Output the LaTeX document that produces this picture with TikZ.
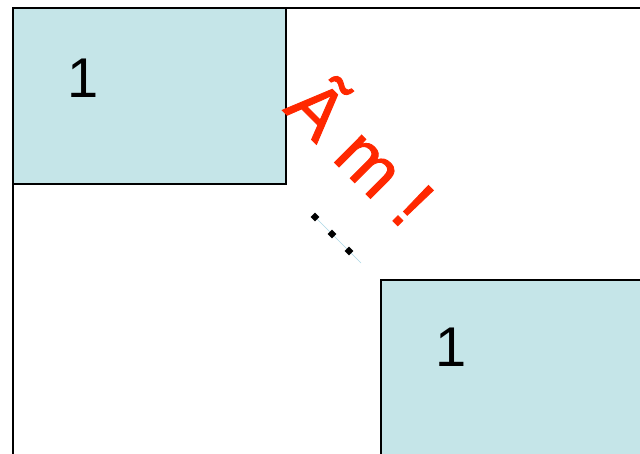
\documentclass[tikz,border=0pt]{standalone}
\usepackage{fontspec}
\setmainfont{Liberation Sans}
\newfontfamily\redfont[FakeBold=1.2]{Liberation Sans}
\definecolor{boxcyan}{RGB}{197,229,232}
\definecolor{textred}{RGB}{255,40,0}
\definecolor{dotline}{RGB}{170,215,230}
\usetikzlibrary{shapes.geometric}
\tikzset{
  cell/.style={draw=black, line width=2pt, fill=boxcyan},
  onelabel/.style={font=\fontsize{56}{60}\selectfont, inner sep=0pt},
  dotmark/.style={diamond, fill=black, inner sep=0pt, minimum size=9pt},
}
\begin{document}
\begin{tikzpicture}[x=1pt,y=-1pt]
\useasboundingbox (0,0) rectangle (640,453);
\fill[white] (0,0) rectangle (640,453);
\begin{scope}
\clip (0,0) rectangle (640,453);
% large frame
\draw[line width=2pt] (13,470) -- (13,8) -- (660,8);
% boxes
\draw[cell] (13,8) rectangle (286,184);
\draw[cell] (381,280) rectangle (660,470);
\end{scope}
\node[onelabel] (one1) at (83,78) {1};
\node[onelabel] (one2) at (451,347) {1};
% dots
\coordinate (ds) at (315,217);
\coordinate (de) at (361,263);
\draw[dotline, line width=0.6pt] (ds) -- (de);
\node[dotmark] (d1) at (315,217) {};
\node[dotmark] (d2) at (332,234) {};
\node[dotmark] (d3) at (349,251) {};
% red text
\node[anchor=base west, inner sep=0pt, rotate=-45, text=textred, font=\redfont\fontsize{73}{76}\selectfont] (am) at (282,110) {Ã m !};
\end{tikzpicture}
\end{document}
